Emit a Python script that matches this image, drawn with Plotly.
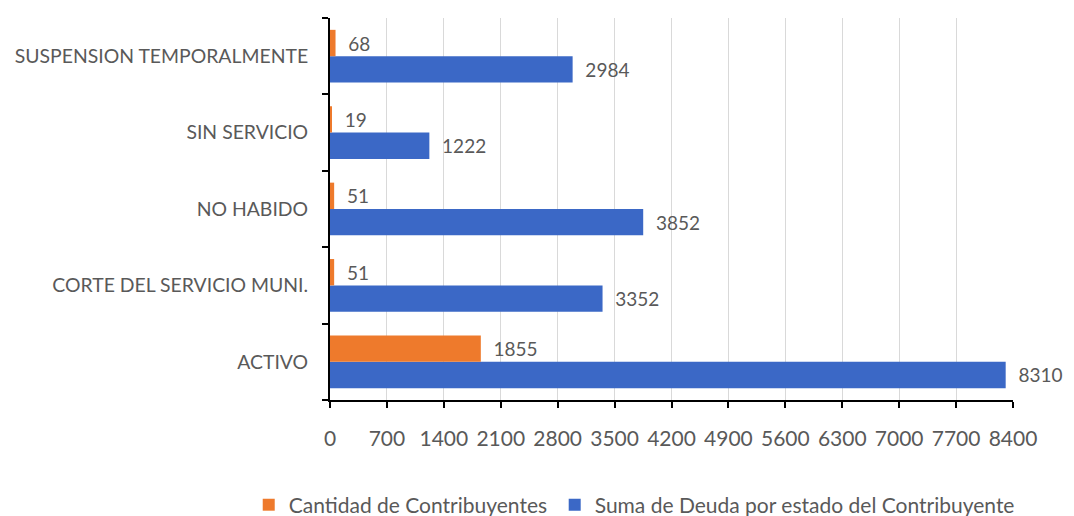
import plotly.graph_objects as go

# Estados del contribuyente (de abajo hacia arriba)
estados = ["ACTIVO", "CORTE DEL SERVICIO MUNI.", "NO HABIDO", "SIN SERVICIO", "SUSPENSION TEMPORALMENTE"]
cantidad = [1855, 51, 51, 19, 68]
suma_deuda = [8310, 3352, 3852, 1222, 2984]
x_ticks = [0, 700, 1400, 2100, 2800, 3500, 4200, 4900, 5600, 6300, 7000, 7700, 8400]

font_family = "Lato, 'Open Sans', sans-serif"
gray = "#595959"

fig = go.Figure()

# Blue first so that it sits below orange within each group
fig.add_trace(go.Bar(
    y=estados,
    x=suma_deuda,
    orientation="h",
    name="Suma de Deuda por estado del Contribuyente",
    marker=dict(color="#3B68C6", line=dict(width=0)),
    text=["  " + str(v) for v in suma_deuda],
    textposition="outside",
    textfont=dict(size=19, color=gray, family=font_family),
    cliponaxis=False,
    legend="legend2",
))
fig.add_trace(go.Bar(
    y=estados,
    x=cantidad,
    orientation="h",
    name="Cantidad de Contribuyentes",
    marker=dict(color="#EE7A2C", line=dict(width=0)),
    text=["  " + str(v) for v in cantidad],
    textposition="outside",
    textfont=dict(size=19, color=gray, family=font_family),
    cliponaxis=False,
    legend="legend",
))

legend_style = dict(
    orientation="h",
    yanchor="middle",
    y=-0.275,
    xanchor="left",
    font=dict(size=21, color=gray),
    bgcolor="rgba(0,0,0,0)",
)

# the page body has an 8px margin, so the figure is sized to the visible area
fig.update_layout(
    width=1066,
    height=508,
    barmode="group",
    bargap=0.31,
    bargroupgap=0,
    plot_bgcolor="white",
    paper_bgcolor="white",
    margin=dict(l=322, r=61, t=10, b=116, autoexpand=False),
    font=dict(family=font_family, color=gray, size=20),
    showlegend=True,
    legend=dict(legend_style, x=-0.119),
    legend2=dict(legend_style, x=0.329),
    xaxis=dict(
        range=[0, 8400],
        tickmode="array",
        tickvals=x_ticks,
        ticktext=[str(t) for t in x_ticks],
        showgrid=True,
        gridcolor="#D9D9D9",
        gridwidth=1,
        showline=True,
        linecolor="black",
        linewidth=2,
        ticks="outside",
        ticklen=6,
        tickcolor="black",
        tickwidth=2,
        ticklabelstandoff=13,
        tickfont=dict(size=21, color=gray),
        zeroline=False,
        automargin=False,
    ),
    yaxis=dict(
        categoryorder="array",
        categoryarray=estados,
        showline=True,
        linecolor="black",
        linewidth=2,
        ticks="outside",
        tickson="boundaries",
        ticklen=6,
        tickcolor="black",
        tickwidth=2,
        ticklabelstandoff=16,
        tickfont=dict(size=19.4, color=gray),
        showgrid=False,
        automargin=False,
    ),
)

fig.write_html("out.html")
